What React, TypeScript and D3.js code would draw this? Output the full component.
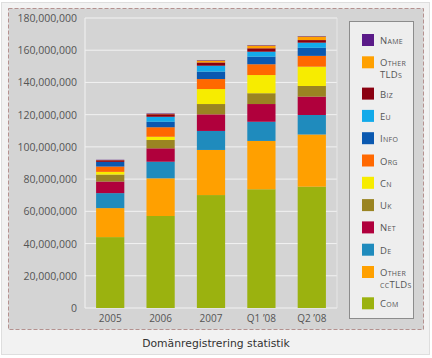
import * as d3 from "d3";

// registrations, in millions
const periods = ["2005", "2006", "2007", "Q1 \u201908", "Q2 \u201908"];
const com = [44.0, 57.1, 70.1, 73.7, 75.3];
const otherCcTlds = [18.0, 23.4, 28.0, 30.0, 32.4];
const de = [9.3, 10.3, 11.8, 11.9, 12.1];
const net = [7.2, 8.3, 10.3, 11.0, 11.4];
const uk = [4.3, 5.2, 6.4, 6.7, 6.6];
const cn = [1.7, 2.0, 9.3, 11.3, 12.0];
const org = [3.3, 5.9, 6.2, 6.7, 6.7];
const info = [2.9, 3.4, 4.6, 4.7, 5.0];
const eu = [0, 3.1, 3.7, 3.1, 3.2];
const biz = [1.0, 1.6, 2.0, 2.1, 1.6];
const otherTlds = [0.1, 0.2, 1.2, 1.7, 2.2];
const name = [0.2, 0.3, 0.3, 0.3, 0.3];
const yTicks = [0, 20, 40, 60, 80, 100, 120, 140, 160, 180];

// bottom to top
const series = [
  { key: "com", label: ["Com"], color: "#9bb20f", values: com },
  { key: "occ", label: ["Other", "ccTLDs"], color: "#ffa000", values: otherCcTlds },
  { key: "de", label: ["De"], color: "#1f8bbd", values: de },
  { key: "net", label: ["Net"], color: "#b0003c", values: net },
  { key: "uk", label: ["Uk"], color: "#9a8422", values: uk },
  { key: "cn", label: ["Cn"], color: "#f7ec00", values: cn },
  { key: "org", label: ["Org"], color: "#ff6800", values: org },
  { key: "info", label: ["Info"], color: "#0a58b0", values: info },
  { key: "eu", label: ["Eu"], color: "#12aaea", values: eu },
  { key: "biz", label: ["Biz"], color: "#8a0010", values: biz },
  { key: "otld", label: ["Other", "TLDs"], color: "#ffa000", values: otherTlds },
  { key: "name", label: ["Name"], color: "#5a1a88", values: name },
];

const rows = periods.map((p, i) => {
  const r: any = { period: p };
  series.forEach((s) => (r[s.key] = s.values[i]));
  return r;
});

export default function App() {
  const W = 432, H = 358;
  const plot = { left: 85, right: 337, top: 18, bottom: 308 };

  const x = d3
    .scaleBand()
    .domain(periods)
    .range([plot.left, plot.right])
    .paddingInner(0.44)
    .paddingOuter(0.22);
  const y = d3.scaleLinear().domain([0, 180]).range([plot.bottom, plot.top]);
  const stacked = d3.stack().keys(series.map((s) => s.key))(rows);
  const fmt = d3.format(",");

  // legend rows: top to bottom
  const legendItems = series.slice().reverse();
  let ly = 40;
  const legendPos = legendItems.map((s, i) => {
    if (i > 0) {
      ly += 22.3;
      if (legendItems[i - 1].label.length > 1) ly += 9;
    }
    return ly;
  });

  return (
    <svg
      width={W}
      height={H}
      style={{ position: "absolute", left: 0, top: 0, background: "#fff" }}
    >
      <rect x={1.5} y={2.5} width={428} height={352} fill="#f2f2f2" stroke="#dedede" />
      <rect
        x={8.5}
        y={8.5}
        width={415}
        height={321}
        fill="#d4d4d4"
        stroke="#b4918f"
        strokeDasharray="4,2"
      />

      {/* grid */}
      {yTicks.map((t) => (
        <line
          key={t}
          x1={plot.left}
          x2={plot.right}
          y1={y(t)}
          y2={y(t)}
          stroke="#f2f2f2"
          strokeWidth={1}
        />
      ))}
      <line x1={plot.left} x2={plot.left} y1={plot.top} y2={plot.bottom} stroke="#f2f2f2" />
      <line x1={plot.right} x2={plot.right} y1={plot.top} y2={plot.bottom} stroke="#e6e6e6" />

      {yTicks.map((t) => (
        <text
          key={"l" + t}
          x={77}
          y={y(t) + 4}
          textAnchor="end"
          fontFamily="'Open Sans', sans-serif"
          fontSize={10.5}
          fill="#555"
        >
          {fmt(t * 1e6)}
        </text>
      ))}

      {stacked.map((layer, li) => (
        <g key={layer.key} fill={series[li].color}>
          {layer.map((d, i) => (
            <rect
              key={i}
              x={x(periods[i])}
              y={y(d[1])}
              width={x.bandwidth()}
              height={Math.max(0, y(d[0]) - y(d[1]))}
            />
          ))}
        </g>
      ))}

      {periods.map((p) => (
        <text
          key={p}
          x={(x(p) || 0) + x.bandwidth() / 2}
          y={322}
          textAnchor="middle"
          fontFamily="'Open Sans', sans-serif"
          fontSize={10}
          fill="#555"
        >
          {p}
        </text>
      ))}

      {/* legend */}
      <rect x={349.5} y={21.5} width={64} height={297} fill="#eeeeee" stroke="#8c8c8c" />
      {legendItems.map((s, i) => (
        <g key={s.key}>
          <rect x={362} y={legendPos[i] - 6} width={12} height={12} fill={s.color} />
          <text
            x={380}
            y={legendPos[i] + 4}
            fontFamily="'Open Sans', sans-serif"
            fontSize={9.5}
            fill="#555"
            style={{ fontVariant: "small-caps", letterSpacing: 0.3 }}
          >
            {s.label.map((t, j) => (
              <tspan key={j} x={380} dy={j === 0 ? 0 : 11.5}>
                {t}
              </tspan>
            ))}
          </text>
        </g>
      ))}

      <text
        x={216}
        y={347}
        textAnchor="middle"
        fontFamily="'DejaVu Sans', Verdana, sans-serif"
        fontSize={10.8}
        fill="#333"
      >
        Domänregistrering statistik
      </text>
    </svg>
  );
}
